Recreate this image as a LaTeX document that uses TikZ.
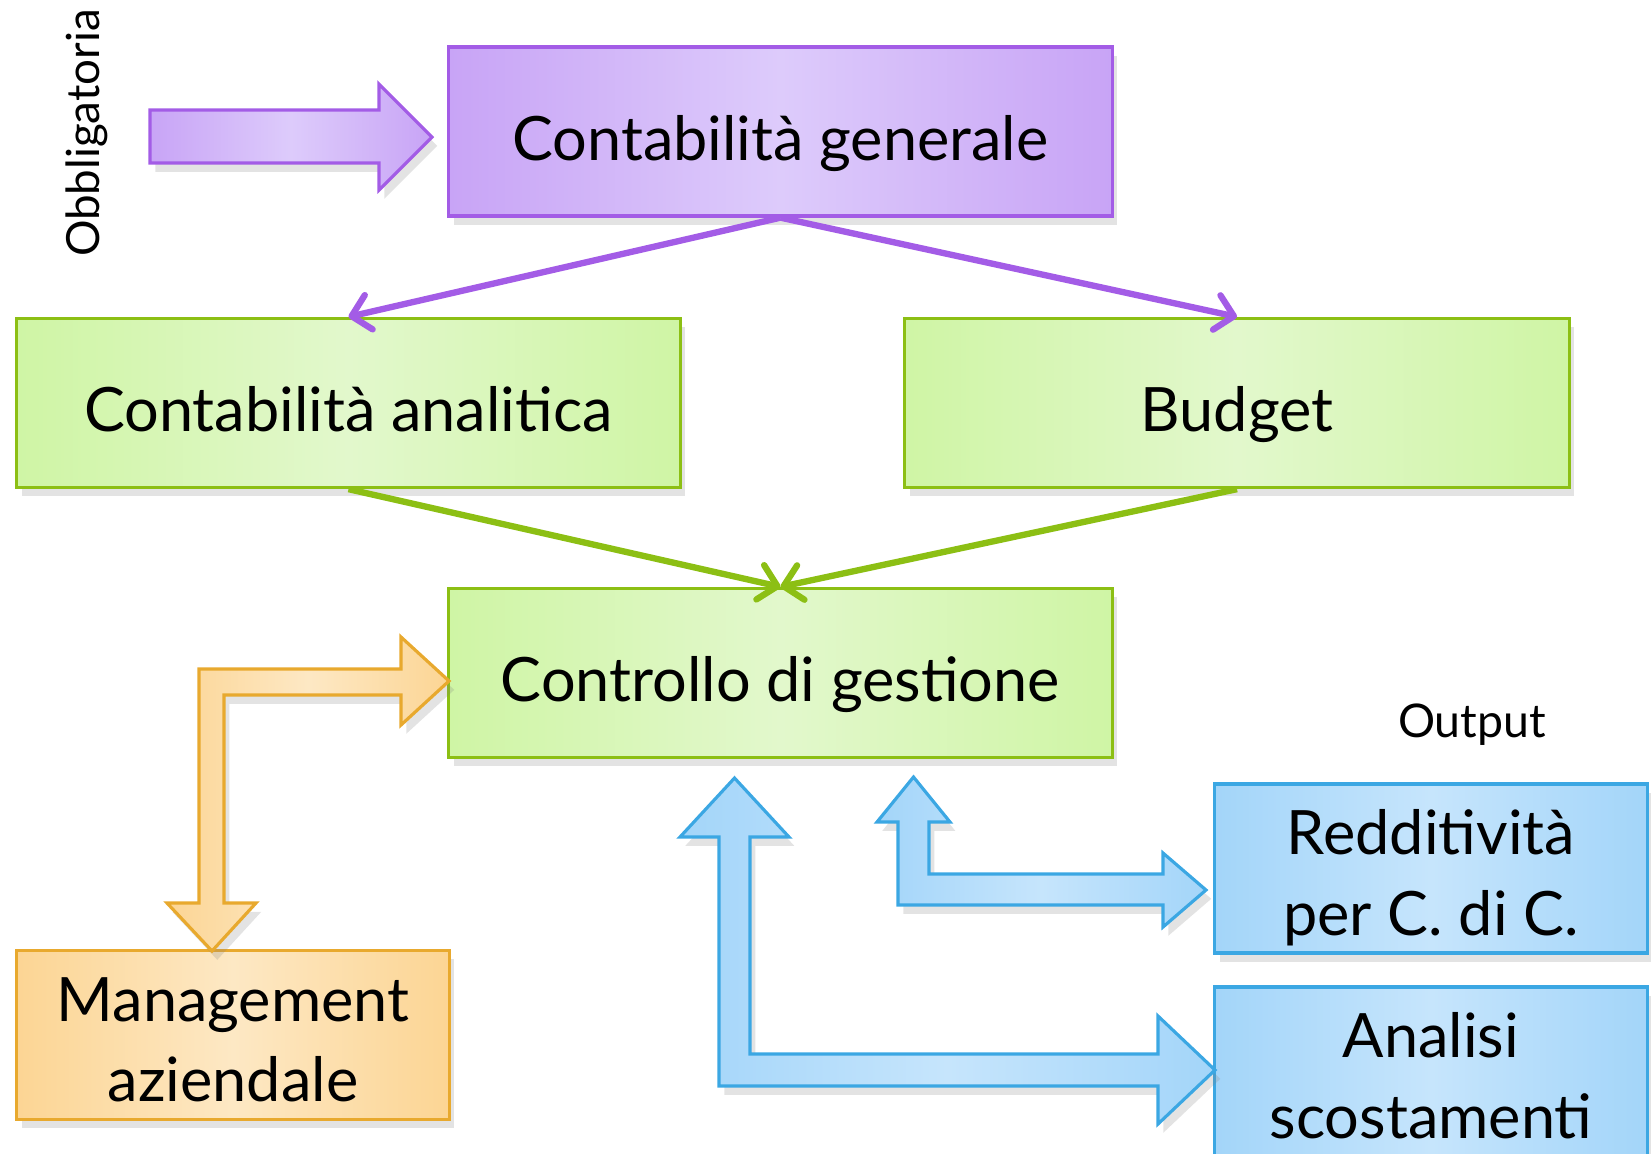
\documentclass[tikz,border=0pt]{standalone}
\usepackage{fontspec}
\setmainfont{Lato}
\usetikzlibrary{shadows, arrows.meta}

\definecolor{violaBordo}{HTML}{A35CE6}
\definecolor{violaScuro}{HTML}{C8A4F6}
\definecolor{violaChiaro}{HTML}{DDCBFB}
\definecolor{verdeBordo}{HTML}{8CBF14}
\definecolor{verdeScuro}{HTML}{CFF5A5}
\definecolor{verdeChiaro}{HTML}{E2F8CC}
\definecolor{aranBordo}{HTML}{E8A92E}
\definecolor{aranScuro}{HTML}{FCD594}
\definecolor{aranChiaro}{HTML}{FDE8C4}
\definecolor{bluBordo}{HTML}{3BA7E3}
\definecolor{bluScuro}{HTML}{A3D5F9}
\definecolor{bluChiaro}{HTML}{C6E5FC}

\begin{document}
\begin{tikzpicture}[x=0.01cm, y=-0.01cm,
  ombra/.style={drop shadow={opacity=.22, shadow xshift=1.5pt, shadow yshift=-2.5pt}},
  blocco/.style={draw, line width=0.9pt, ombra, align=center,
    font=\fontsize{17.4}{22.8}\selectfont, minimum height=1.69cm},
  riga/.style={text height=0.72cm, text depth=0.15cm},
  duerighe/.style={text height=1.48cm, text depth=0.15cm, inner ysep=0pt},
  cviola/.style={blocco, draw=violaBordo, left color=violaScuro, right color=violaScuro, middle color=violaChiaro},
  cverde/.style={blocco, draw=verdeBordo, left color=verdeScuro, right color=verdeScuro, middle color=verdeChiaro},
  caran/.style={blocco, draw=aranBordo, left color=aranScuro, right color=aranScuro, middle color=aranChiaro},
  cblu/.style={blocco, draw=bluBordo, left color=bluScuro, right color=bluScuro, middle color=bluChiaro},
  freccia/.style={line width=1.8pt, -{Straight Barb[length=5pt, width=10pt, round]}},
  grossa/.style={line width=0.9pt, line join=miter, ombra}]
\useasboundingbox (0,0) rectangle (1651,1153);

% caselle
\node[cviola, riga, minimum width=6.63cm] (gen) at (780.5,131.5) {Contabilità generale};
\node[cverde, riga, minimum width=6.63cm] (ana) at (348.5,403) {Contabilità analitica};
\node[cverde, riga, minimum width=6.64cm] (bud) at (1237,403) {Budget};
\node[cverde, riga, minimum width=6.63cm] (ctrl) at (780.5,673) {Controllo di gestione};
\node[caran, duerighe, minimum width=4.32cm] (man) at (233,1035) {Management\\aziendale};
\node[cblu, duerighe, minimum width=4.32cm] (red) at (1431,868.5) {Redditività\\per C. di C.};
\node[cblu, duerighe, minimum width=4.32cm] (sco) at (1431,1071.5) {Analisi\\scostamenti};

\node[rotate=90, font=\fontsize{13}{16}\selectfont] (obb) at (87,133) {Obbligatoria};
\node[font=\fontsize{13.2}{16}\selectfont] (out) at (1472,725) {Output};

% frecce sottili
\draw[freccia, violaBordo] (gen.south) -- (ana.north);
\draw[freccia, violaBordo] (gen.south) -- (bud.north);
\draw[freccia, verdeBordo] (ana.south) -- (ctrl.north);
\draw[freccia, verdeBordo] (bud.south) -- (ctrl.north);

% frecce a blocco
\draw[grossa, draw=violaBordo, left color=violaScuro, right color=violaScuro, middle color=violaChiaro]
  (150,110) -- (379,110) -- (379,84) -- (432,137) -- (379,190) -- (379,163) -- (150,163) -- cycle;
\draw[grossa, draw=aranBordo, left color=aranScuro, right color=aranScuro, middle color=aranChiaro]
  (449,681) -- (401,725) -- (401,695) -- (224,695) -- (224,903) -- (256,903) -- (212,951)
  -- (167,903) -- (199,903) -- (199,669) -- (401,669) -- (401,637) -- cycle;
\draw[grossa, draw=bluBordo, left color=bluScuro, right color=bluScuro, middle color=bluChiaro]
  (913.5,777) -- (950,822) -- (929,822) -- (929,874) -- (1163,874) -- (1163,853) -- (1206,890)
  -- (1163,927) -- (1163,905) -- (898,905) -- (898,822) -- (877,822) -- cycle;
\draw[grossa, draw=bluBordo, left color=bluScuro, right color=bluScuro, middle color=bluChiaro]
  (734.5,778) -- (789,837) -- (750,837) -- (750,1054) -- (1158,1054) -- (1158,1016) -- (1215,1070)
  -- (1158,1124) -- (1158,1086) -- (719,1086) -- (719,837) -- (680,837) -- cycle;
\end{tikzpicture}
\end{document}
